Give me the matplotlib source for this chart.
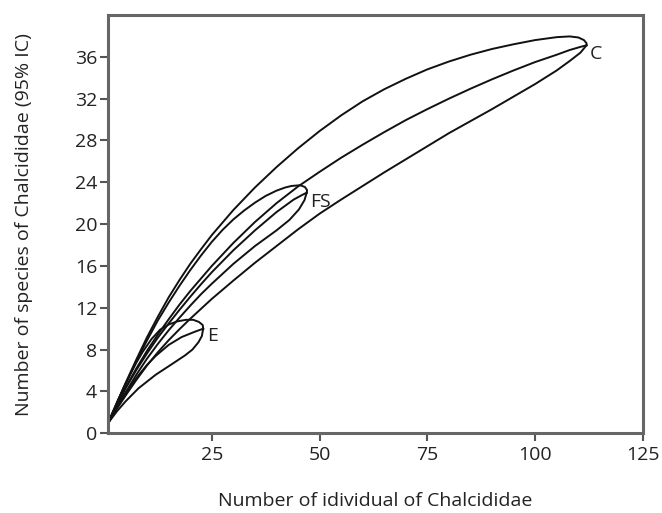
import matplotlib.pyplot as plt

plt.rcParams['font.family'] = ['Open Sans', 'DejaVu Sans']

# C site: rarefaction curve with 95% CI (upper, mean, lower)
c_up_x = [1, 2, 3, 5, 7.5, 10, 12.5, 15, 17.5, 20, 22.5, 25, 30, 35, 40, 45, 50, 55, 60, 65,
          70, 75, 80, 85, 90, 95, 100, 105, 108, 110, 111.3, 111.9, 111.9]
c_up_y = [1, 1.95, 2.9, 4.8, 7.05, 9.2, 11.15, 13.0, 14.65, 16.2, 17.6, 18.95, 21.35, 23.5, 25.45,
          27.25, 28.9, 30.4, 31.75, 32.9, 33.9, 34.8, 35.55, 36.2, 36.75, 37.2, 37.6, 37.88, 37.95,
          37.85, 37.6, 37.3, 37.1]
c_mean_x = [1, 2, 3, 5, 7.5, 10, 12.5, 15, 17.5, 20, 22.5, 25, 30, 35, 40, 45, 50, 55, 60, 65,
            70, 75, 80, 85, 90, 95, 100, 105, 108, 110.5, 111.9]
c_mean_y = [1, 1.9, 2.75, 4.35, 6.2, 7.9, 9.45, 10.9, 12.3, 13.6, 14.8, 16.0, 18.2, 20.2, 22.0,
            23.6, 25.0, 26.35, 27.6, 28.8, 29.95, 31.0, 32.0, 32.95, 33.85, 34.7, 35.5, 36.2,
            36.65, 36.95, 37.1]
c_low_x = [1, 2, 3, 5, 7.5, 10, 12.5, 15, 17.5, 20, 22.5, 25, 30, 35, 40, 45, 50, 55, 60, 65,
           70, 75, 80, 85, 90, 95, 100, 105, 108, 110.5, 111.9]
c_low_y = [1, 1.7, 2.35, 3.6, 5.1, 6.5, 7.75, 8.9, 9.95, 10.95, 11.9, 12.85, 14.6, 16.3, 17.9,
           19.5, 21.0, 22.35, 23.65, 24.95, 26.2, 27.45, 28.7, 29.85, 31.0, 32.2, 33.4, 34.7,
           35.6, 36.4, 37.1]

# FS site
fs_up_x = [1, 2, 3, 5, 7.5, 10, 12.5, 15, 17.5, 20, 22.5, 25, 27.5, 30, 32.5, 35, 37.5, 40, 42,
           43.5, 45.5, 46.6, 47.1, 47.0]
fs_up_y = [1, 1.95, 2.9, 4.7, 6.9, 8.9, 10.8, 12.5, 14.1, 15.6, 17.0, 18.3, 19.45, 20.45, 21.3,
           22.05, 22.7, 23.2, 23.5, 23.65, 23.72, 23.55, 23.25, 23.0]
fs_mean_x = [1, 2, 3, 5, 7.5, 10, 12.5, 15, 17.5, 20, 22.5, 25, 30, 35, 40, 44, 46, 47]
fs_mean_y = [1, 1.85, 2.7, 4.3, 6.05, 7.65, 9.15, 10.5, 11.8, 13.05, 14.25, 15.4, 17.5, 19.4,
             21.15, 22.35, 22.8, 23.0]
fs_low_x = [1, 2, 3, 5, 7.5, 10, 12.5, 15, 17.5, 20, 22.5, 25, 30, 35, 40, 43, 45.2, 46.5, 47]
fs_low_y = [1, 1.75, 2.5, 3.9, 5.6, 7.15, 8.55, 9.85, 11.05, 12.2, 13.3, 14.3, 16.2, 17.9, 19.4,
            20.4, 21.4, 22.3, 23.0]

# E site
e_up_x = [1, 2, 3, 4.5, 6, 7.5, 9, 11, 13, 15, 17, 19, 20.7, 22, 22.9, 23.0]
e_up_y = [1, 2.0, 2.95, 4.3, 5.55, 6.75, 7.8, 9.0, 9.9, 10.4, 10.7, 10.85, 10.85, 10.65, 10.35, 10.0]
e_mean_x = [1, 2, 4, 6, 8, 10, 12, 15, 18, 21, 23]
e_mean_y = [1, 1.8, 3.2, 4.45, 5.55, 6.55, 7.4, 8.45, 9.2, 9.7, 10.0]
e_low_x = [1, 3, 5, 8, 12, 15.7, 18.8, 20.5, 21.9, 22.7, 23.0]
e_low_y = [1, 2.1, 3.05, 4.3, 5.6, 6.6, 7.45, 8.0, 8.7, 9.3, 10.0]

labels = ["C", "FS", "E"]
label_x = [112.7, 47.8, 23.9]
label_y = [36.3, 22.1, 9.3]

fig = plt.figure(figsize=(6.62, 5.13), dpi=100)
ax = fig.add_axes([0.1636, 0.1554, 0.8077, 0.8154])

curves = [(c_up_x, c_up_y), (c_mean_x, c_mean_y), (c_low_x, c_low_y),
          (fs_up_x, fs_up_y), (fs_mean_x, fs_mean_y), (fs_low_x, fs_low_y),
          (e_up_x, e_up_y), (e_mean_x, e_mean_y), (e_low_x, e_low_y)]
for xs, ys in curves:
    ax.plot(xs, ys, color="#111111", lw=1.4, solid_joinstyle="round")

for lab, lx, ly in zip(labels, label_x, label_y):
    ax.text(lx, ly, lab, fontsize=14, ha="left", va="center", color="#222222")

ax.set_xlim(1, 125)
ax.set_ylim(0, 40)
ax.set_xticks([25, 50, 75, 100, 125])
ax.set_yticks(range(0, 37, 4))
ax.tick_params(direction="out", length=6, width=1.5, color="#555555",
               labelsize=14, labelcolor="#222222")
ax.tick_params(axis="y", pad=2)
for s in ax.spines.values():
    s.set_color("#666666")
    s.set_linewidth(2.2)

ax.set_xlabel("Number of idividual of Chalcididae", fontsize=14, labelpad=20, color="#222222")
ax.set_ylabel("Number of species of Chalcididae (95% IC)", fontsize=14, labelpad=30, color="#222222")

fig.savefig("out.png", dpi=100)
